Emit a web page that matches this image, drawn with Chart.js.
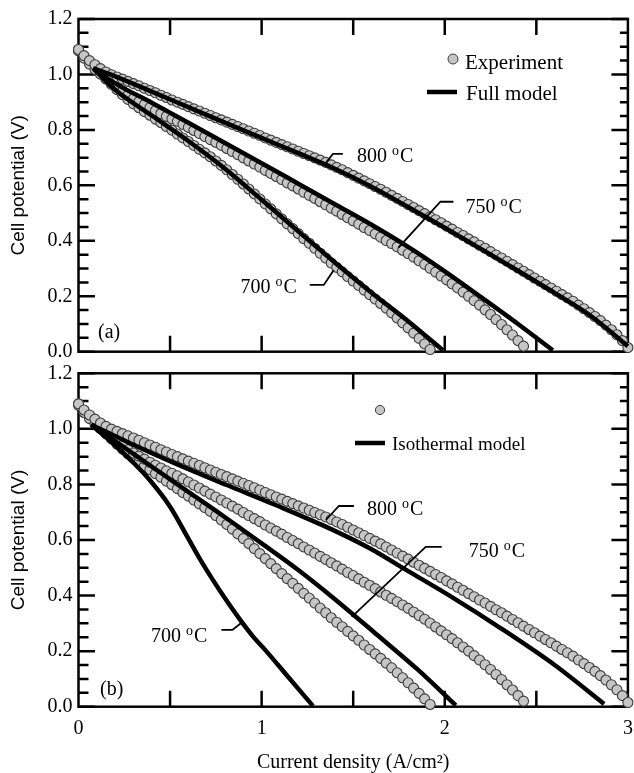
<!DOCTYPE html>
<html>
<head>
<meta charset="utf-8">
<script src="https://cdn.jsdelivr.net/npm/chart.js@4.4.1/dist/chart.umd.min.js"></script>
<style>
  html, body { margin: 0; padding: 0; background: #fff; }
  #wrap { position: relative; width: 634px; height: 773px; }
  #wrap canvas { position: absolute; left: 0; }
  #chartA { top: 0; }
  #chartB { top: 355px; }
</style>
</head>
<body>
<div id="wrap">
  <canvas id="chartA" width="634" height="365"></canvas>
  <canvas id="chartB" width="634" height="418"></canvas>
</div>
<script>
Chart.defaults.font.family = '"Liberation Serif", "Times New Roman", serif';
Chart.defaults.color = '#000';

const temps = ['800', '750', '700'];

// Measured polarisation curves, current density in A/cm2
const expCurrent = [
  0, 0.03, 0.06, 0.09, 0.12, 0.15, 0.18, 0.21, 0.24, 0.27, 0.30, 0.33, 0.36, 0.39, 0.42, 0.45, 0.48,
  0.51, 0.54, 0.57, 0.60, 0.63, 0.66, 0.69, 0.72, 0.75, 0.78, 0.81, 0.84, 0.87, 0.90, 0.93, 0.96, 0.99,
  1.02, 1.05, 1.08, 1.11, 1.14, 1.17, 1.20, 1.23, 1.26, 1.29, 1.32, 1.35, 1.38, 1.41, 1.44, 1.47, 1.50,
  1.53, 1.56, 1.59, 1.62, 1.65, 1.68, 1.71, 1.74, 1.77, 1.80, 1.83, 1.86, 1.89, 1.92, 1.95, 1.98, 2.01,
  2.04, 2.07, 2.10, 2.13, 2.16, 2.19, 2.22, 2.25, 2.28, 2.31, 2.34, 2.37, 2.40, 2.43, 2.46, 2.49, 2.52,
  2.55, 2.58, 2.61, 2.64, 2.67, 2.70, 2.73, 2.76, 2.79, 2.82, 2.85, 2.88, 2.91, 2.94, 2.97, 3.00
];
const expV800 = [
  1.090, 1.068, 1.050, 1.035, 1.021, 1.009, 0.999, 0.991, 0.983, 0.975, 0.967, 0.959, 0.950, 0.942,
  0.934, 0.925, 0.917, 0.908, 0.900, 0.892, 0.884, 0.876, 0.868, 0.860, 0.852, 0.844, 0.836, 0.828,
  0.820, 0.812, 0.804, 0.796, 0.788, 0.780, 0.771, 0.763, 0.755, 0.747, 0.739, 0.731, 0.723, 0.715,
  0.707, 0.699, 0.691, 0.683, 0.674, 0.665, 0.656, 0.646, 0.636, 0.626, 0.616, 0.606, 0.596, 0.586,
  0.575, 0.564, 0.553, 0.542, 0.531, 0.520, 0.509, 0.498, 0.487, 0.476, 0.465, 0.453, 0.442, 0.430,
  0.419, 0.407, 0.396, 0.384, 0.373, 0.361, 0.349, 0.338, 0.326, 0.314, 0.302, 0.290, 0.278, 0.266,
  0.254, 0.242, 0.230, 0.218, 0.206, 0.194, 0.182, 0.168, 0.155, 0.141, 0.127, 0.112, 0.096, 0.079,
  0.061, 0.040, 0.015
];
const expV750 = [
  1.085, 1.059, 1.037, 1.018, 1.001, 0.985, 0.970, 0.955, 0.940, 0.925, 0.913, 0.902, 0.891, 0.880,
  0.869, 0.859, 0.849, 0.840, 0.831, 0.820, 0.809, 0.798, 0.787, 0.776, 0.765, 0.755, 0.744, 0.733,
  0.722, 0.711, 0.699, 0.688, 0.677, 0.666, 0.654, 0.643, 0.632, 0.621, 0.609, 0.598, 0.587, 0.575,
  0.564, 0.553, 0.541, 0.530, 0.518, 0.507, 0.495, 0.483, 0.472, 0.460, 0.448, 0.437, 0.425, 0.413,
  0.401, 0.390, 0.378, 0.366, 0.354, 0.341, 0.328, 0.315, 0.301, 0.287, 0.273, 0.259, 0.245, 0.230,
  0.215, 0.200, 0.184, 0.168, 0.151, 0.134, 0.116, 0.098, 0.079, 0.060, 0.040, 0.020
];
const expV700 = [
  1.090, 1.066, 1.044, 1.023, 1.003, 0.983, 0.964, 0.945, 0.927, 0.910, 0.894, 0.880, 0.866, 0.853,
  0.839, 0.826, 0.812, 0.799, 0.785, 0.771, 0.758, 0.744, 0.730, 0.717, 0.703, 0.688, 0.672, 0.656,
  0.639, 0.622, 0.605, 0.587, 0.569, 0.551, 0.533, 0.515, 0.497, 0.479, 0.461, 0.444, 0.426, 0.408,
  0.391, 0.373, 0.355, 0.338, 0.320, 0.304, 0.288, 0.271, 0.255, 0.239, 0.222, 0.206, 0.190, 0.174,
  0.157, 0.140, 0.122, 0.104, 0.086, 0.067, 0.048, 0.028, 0.008
];

// Full model
const fullI800 = [0.08, 0.2, 0.4, 0.6, 0.8, 1.0, 1.2, 1.4, 1.6, 1.8, 2.0, 2.2, 2.4, 2.6, 2.8, 3.0];
const fullV800 = [1.022, 0.993, 0.938, 0.882, 0.826, 0.771, 0.716, 0.660, 0.595, 0.522, 0.447, 0.370, 0.292, 0.212, 0.128, 0.020];
const fullI750 = [0.08, 0.2, 0.4, 0.6, 0.8, 1.0, 1.2, 1.4, 1.6, 1.8, 2.0, 2.2, 2.4, 2.59];
const fullV750 = [1.022, 0.968, 0.898, 0.826, 0.753, 0.680, 0.606, 0.532, 0.458, 0.378, 0.290, 0.196, 0.100, 0.005];
const fullI700 = [0.08, 0.2, 0.4, 0.6, 0.8, 1.0, 1.2, 1.4, 1.6, 1.8, 1.99];
const fullV700 = [1.022, 0.945, 0.852, 0.760, 0.660, 0.548, 0.434, 0.322, 0.213, 0.110, 0.005];

// Isothermal model
const isoI800 = [0.07, 0.27, 0.54, 0.81, 1.08, 1.35, 1.585, 1.8, 2.05, 2.3, 2.6, 2.87];
const isoV800 = [1.015, 0.952, 0.872, 0.798, 0.725, 0.648, 0.572, 0.488, 0.390, 0.285, 0.150, 0.010];
const isoI750 = [0.07, 0.3, 0.54, 0.8, 1.0, 1.2, 1.4, 1.63, 1.85, 2.06];
const isoV750 = [1.015, 0.910, 0.800, 0.682, 0.588, 0.492, 0.387, 0.259, 0.135, 0.005];
const isoI700 = [0.07, 0.2, 0.3, 0.39, 0.5, 0.6, 0.66, 0.73, 0.8, 0.88, 0.95, 1.025, 1.15, 1.28];
const isoV700 = [1.015, 0.940, 0.878, 0.815, 0.720, 0.605, 0.535, 0.460, 0.390, 0.315, 0.255, 0.200, 0.103, 0.003];

const markerFill = '#c6c6c6';
const markerEdge = '#3c3c3c';
const SERIF = '"Liberation Serif", "Times New Roman", serif';

const pts = (xs, ys) => ys.map((v, i) => ({ x: xs[i], y: v }));

function expSet(values) {
  return {
    data: pts(expCurrent, values),
    showLine: false,
    pointRadius: 5,
    pointBackgroundColor: markerFill,
    pointBorderColor: markerEdge,
    pointBorderWidth: 1.1,
    clip: false,
    order: 2
  };
}

function modelSet(xs, ys) {
  return {
    data: pts(xs, ys),
    showLine: true,
    borderColor: '#000',
    borderWidth: 4.5,
    pointRadius: 0,
    cubicInterpolationMode: 'monotone',
    fill: false,
    clip: false,
    order: 1
  };
}

// "800 oC" with a raised small o
function drawTemp(ctx, deg, x, y, align) {
  const main = '20px ' + SERIF, sup = '14px ' + SERIF;
  ctx.font = main;
  const w1 = ctx.measureText(deg + ' ').width;
  const w3 = ctx.measureText('C').width;
  ctx.font = sup;
  const w2 = ctx.measureText('o').width + 1;
  const x0 = align === 'right' ? x - (w1 + w2 + w3) : x;
  ctx.textAlign = 'left';
  ctx.textBaseline = 'alphabetic';
  ctx.font = main;
  ctx.fillText(deg + ' ', x0, y);
  ctx.font = sup;
  ctx.fillText('o', x0 + w1, y - 7);
  ctx.font = main;
  ctx.fillText('C', x0 + w1 + w2, y);
}

const panelFrame = {
  id: 'panelFrame',
  beforeDatasetsDraw(chart) {
    const { ctx, chartArea: a, scales: { x, y } } = chart;
    ctx.save();
    ctx.strokeStyle = '#000';
    ctx.lineWidth = 2.5;
    ctx.strokeRect(a.left, a.top, a.right - a.left, a.bottom - a.top);
    ctx.beginPath();
    // inward ticks on top and bottom
    x.ticks.forEach(t => {
      if (t.value <= x.min || t.value >= x.max) return;
      const px = x.getPixelForValue(t.value);
      ctx.moveTo(px, a.top); ctx.lineTo(px, a.top + 16);
      ctx.moveTo(px, a.bottom); ctx.lineTo(px, a.bottom - 16);
    });
    // inward ticks left and right, three minor ticks between majors
    const ys = y.ticks.map(t => t.value);
    ys.forEach((v, i) => {
      const py = y.getPixelForValue(v);
      ctx.moveTo(a.left, py); ctx.lineTo(a.left + 16.5, py);
      ctx.moveTo(a.right, py); ctx.lineTo(a.right - 16.5, py);
      if (i < ys.length - 1) {
        for (let k = 1; k < 4; k++) {
          const pm = y.getPixelForValue(v + (ys[i + 1] - v) * k / 4);
          ctx.moveTo(a.left, pm); ctx.lineTo(a.left + 10, pm);
          ctx.moveTo(a.right, pm); ctx.lineTo(a.right - 8, pm);
        }
      }
    });
    ctx.stroke();
    ctx.restore();
  },
  afterDraw(chart, args, o) {
    const { ctx, scales: { x, y } } = chart;
    ctx.save();
    ctx.fillStyle = '#000';
    ctx.strokeStyle = '#000';

    // temperature callouts
    ctx.lineWidth = 1.8;
    o.labels.forEach(l => {
      const px = x.getPixelForValue(l.at[0]);
      const py = y.getPixelForValue(l.at[1]);
      ctx.beginPath();
      ctx.moveTo(px, py);
      l.path.forEach(([dx, dy]) => ctx.lineTo(px + dx, py + dy));
      ctx.stroke();
      drawTemp(ctx, l.t, px + l.text[0], py + l.text[1], l.align);
    });

    // legend
    const lg = o.legend;
    ctx.beginPath();
    ctx.arc(lg.marker[0], lg.marker[1], lg.r, 0, Math.PI * 2);
    ctx.fillStyle = markerFill;
    ctx.fill();
    ctx.lineWidth = 1;
    ctx.strokeStyle = markerEdge;
    ctx.stroke();
    ctx.beginPath();
    ctx.moveTo(lg.line[0], lg.line[2]);
    ctx.lineTo(lg.line[1], lg.line[2]);
    ctx.lineWidth = 4.5;
    ctx.strokeStyle = '#000';
    ctx.stroke();
    ctx.fillStyle = '#000';
    ctx.textAlign = 'left';
    ctx.textBaseline = 'alphabetic';
    ctx.font = lg.size + 'px ' + SERIF;
    lg.texts.forEach(t => ctx.fillText(t[0], t[1], t[2]));

    // panel tag
    ctx.font = '20px ' + SERIF;
    ctx.fillText(o.tag[0], o.tag[1], o.tag[2]);
    ctx.restore();
  }
};

function panelOptions(cfg) {
  return {
    responsive: false,
    animation: false,
    events: [],
    layout: { padding: { top: cfg.top, right: 2.5, left: 0, bottom: 0 } },
    plugins: {
      legend: { display: false },
      tooltip: { enabled: false },
      panelFrame: cfg.decor
    },
    scales: {
      x: {
        type: 'linear', min: 0, max: 3,
        grid: { display: false, drawTicks: false },
        border: { display: false },
        ticks: {
          display: cfg.xLabels, stepSize: 0.5, autoSkip: false, maxRotation: 0, padding: 10,
          font: { size: 20 },
          callback: v => Number.isInteger(v) ? String(v) : ''
        },
        title: {
          display: cfg.xLabels, text: 'Current density (A/cm\u00B2)',
          font: { size: 20, lineHeight: 1 }, padding: 0
        },
        afterFit: s => { s.height = cfg.xHeight; s.paddingLeft = 0; s.paddingRight = 0; }
      },
      y: {
        type: 'linear', min: 0, max: 1.2,
        grid: { display: false, drawTicks: false },
        border: { display: false },
        ticks: { stepSize: 0.2, padding: 6, font: { size: 20 }, callback: v => v.toFixed(1) },
        title: {
          display: true, text: 'Cell potential (V)',
          font: { family: '"Liberation Sans", Arial, sans-serif', size: 19 },
          padding: { top: 7, bottom: 0 }
        },
        afterFit: s => { s.width = 78.5; s.paddingTop = 0; s.paddingBottom = 0; }
      }
    }
  };
}

// (a) experiment vs full model
new Chart(document.getElementById('chartA'), {
  type: 'scatter',
  data: {
    datasets: [
      modelSet(fullI800, fullV800),
      modelSet(fullI750, fullV750),
      modelSet(fullI700, fullV700),
      expSet(expV800),
      expSet(expV750),
      expSet(expV700)
    ]
  },
  options: panelOptions({
    top: 19, xHeight: 13.3, xLabels: false,
    decor: {
      tag: ['(a)', 98, 338],
      legend: {
        marker: [453, 59], r: 5, line: [427, 457, 92], size: 21,
        texts: [['Experiment', 465, 69], ['Full model', 466, 100]]
      },
      labels: [
        { t: temps[0], at: [1.351, 0.681], path: [[7, -9], [17, -9]], text: [31, -1], align: 'left' },
        { t: temps[1], at: [1.747, 0.375], path: [[42, -46], [55, -46]], text: [67, -35], align: 'left' },
        { t: temps[2], at: [1.394, 0.295], path: [[-10, 15], [-24, 15]], text: [-37, 23], align: 'right' }
      ]
    }
  }),
  plugins: [panelFrame]
});

// (b) experiment vs isothermal model
new Chart(document.getElementById('chartB'), {
  type: 'scatter',
  data: {
    datasets: [
      modelSet(isoI800, isoV800),
      modelSet(isoI750, isoV750),
      modelSet(isoI700, isoV700),
      expSet(expV800),
      expSet(expV750),
      expSet(expV700)
    ]
  },
  options: panelOptions({
    top: 18.3, xHeight: 66.3, xLabels: true,
    decor: {
      tag: ['(b)', 100, 339.5],
      legend: {
        marker: [380, 55], r: 4.6, line: [355, 385, 88], size: 19,
        texts: [['Isothermal model', 392, 95]]
      },
      labels: [
        { t: temps[0], at: [1.351, 0.672], path: [[13, -14], [28, -14]], text: [41, -5], align: 'left' },
        { t: temps[1], at: [1.492, 0.323], path: [[74, -70], [90, -70]], text: [117, -60], align: 'left' },
        { t: temps[2], at: [0.895, 0.305], path: [[-10, 8], [-21, 8]], text: [-35, 20], align: 'right' }
      ]
    }
  }),
  plugins: [panelFrame]
});
</script>
</body>
</html>
